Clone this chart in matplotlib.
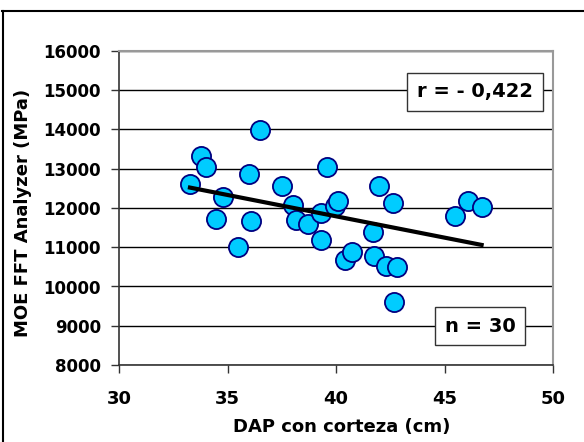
import numpy as np
import matplotlib
matplotlib.use('Agg')
import matplotlib.pyplot as plt
from matplotlib.lines import Line2D

# DAP con corteza (cm) vs MOE FFT Analyzer (MPa)
dap = [33.27, 33.76, 34.0, 34.78, 34.48, 35.47, 36.01, 36.08, 36.5, 37.5,
       38.0, 38.14, 38.7, 39.29, 39.29, 39.6, 39.97, 40.11, 40.41, 40.72,
       42.0, 42.61, 41.69, 41.77, 42.3, 42.83, 42.69, 45.5, 46.1, 46.71]
moe = [12611, 13325, 13053, 12273, 11720, 11015, 12858, 11661, 13979, 12561,
       12076, 11694, 11584, 11880, 11185, 13045, 12059, 12170, 10675, 10870,
       12561, 12140, 11381, 10786, 10522, 10505, 9614, 11796, 12186, 12017]
r_text = 'r = - 0,422'
n_text = 'n = 30'

W, H = 584, 442
fig = plt.figure(figsize=(W / 100, H / 100), dpi=100)
ax = fig.add_axes([119 / W, 1 - 365 / H, (553 - 119) / W, (365 - 51) / H])

ax.set_xlim(30, 50)
ax.set_ylim(8000, 16000)
ax.set_xticks([30, 35, 40, 45, 50])
ax.set_yticks(np.arange(8000, 16001, 1000))
ax.yaxis.grid(True, color='black', linewidth=1)
ax.set_axisbelow(True)

for s in ['top', 'right']:
    ax.spines[s].set_color('#999999')
    ax.spines[s].set_linewidth(1.5)
for s in ['left', 'bottom']:
    ax.spines[s].set_color('#333333')
    ax.spines[s].set_linewidth(1.2)

ax.tick_params(direction='out', length=6, width=1, color='#333333')
ax.tick_params(axis='y', labelsize=12, pad=7)
ax.tick_params(axis='x', labelsize=13, pad=12)
for lab in ax.get_xticklabels() + ax.get_yticklabels():
    lab.set_fontweight('bold')

ax.scatter(dap, moe, s=190, facecolor='#00ccff', edgecolor='#000080', linewidth=1.3, zorder=3)

# linear trend
x = np.array(dap)
k, b = np.polyfit(x, moe, 1)
xs = np.array([x.min(), x.max()])
ax.plot(xs, k * xs + b, color='black', linewidth=3, zorder=4)

ax.set_xlabel('DAP con corteza (cm)', fontsize=13, fontweight='bold')
ax.set_ylabel('MOE FFT Analyzer (MPa)', fontsize=13, fontweight='bold')
ax.xaxis.set_label_coords(0.514, -0.169)
ax.yaxis.set_label_coords(-0.2, 0.484)

box = dict(boxstyle='square,pad=0.5', facecolor='white', edgecolor='#333333', linewidth=1)
fig.text(475 / W, 1 - 92 / H, r_text, fontsize=14, fontweight='bold', ha='center', va='center', bbox=box)
fig.text(480 / W, 1 - 326 / H, n_text, fontsize=14, fontweight='bold', ha='center', va='center', bbox=box)

# outer frame (top and left edges)
fig.add_artist(Line2D([2 / W, 1], [1 - 11 / H, 1 - 11 / H], color='black', linewidth=1.5, transform=fig.transFigure))
fig.add_artist(Line2D([3 / W, 3 / W], [0, 1 - 11 / H], color='black', linewidth=1.5, transform=fig.transFigure))

fig.savefig('out.png', dpi=100)
